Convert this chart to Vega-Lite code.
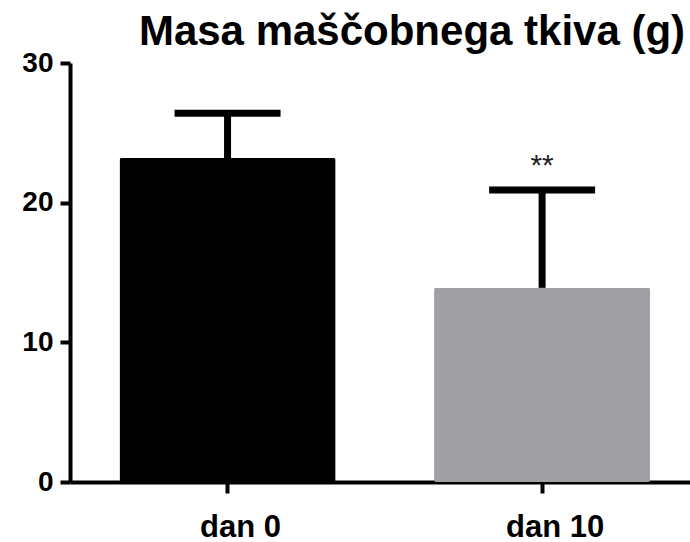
{
  "$schema": "https://vega.github.io/schema/vega-lite/v6.json",
  "width": 620,
  "height": 419,
  "autosize": {"type": "none"},
  "padding": {"left": 70, "top": 63, "right": 0, "bottom": 60},
  "background": "white",
  "title": {
    "text": "Masa maščobnega tkiva (g)",
    "font": "Liberation Sans",
    "fontSize": 42,
    "fontWeight": "bold",
    "color": "black",
    "anchor": "middle",
    "dx": 32,
    "offset": -5
  },
  "data": {
    "values": [
      {"day": "dan 0", "mean": 23.2, "upper": 26.4, "sig": ""},
      {"day": "dan 10", "mean": 13.9, "upper": 20.9, "sig": "**"}
    ]
  },
  "encoding": {
    "x": {
      "field": "day",
      "type": "nominal",
      "sort": null,
      "scale": {"paddingInner": 0.313, "paddingOuter": 0.142, "align": 0.554},
      "axis": {
        "title": null,
        "labelAngle": 0,
        "labelFont": "Liberation Sans",
        "labelFontWeight": "bold",
        "labelFontSize": 31,
        "labelColor": "black",
        "labelPadding": 19,
        "labelOffset": 13,
        "domainColor": "black",
        "domainWidth": 4,
        "tickColor": "black",
        "tickWidth": 4,
        "tickSize": 11
      }
    }
  },
  "layer": [
    {
      "mark": {"type": "bar", "cornerRadius": 2},
      "encoding": {
        "y": {
          "field": "mean",
          "type": "quantitative",
          "scale": {"domain": [0, 30], "nice": false},
          "axis": {
            "title": null,
            "values": [0, 10, 20, 30],
            "grid": false,
            "labelFont": "Liberation Sans",
            "labelFontWeight": "bold",
            "labelFontSize": 28,
            "labelColor": "black",
            "labelPadding": 7,
            "domainColor": "black",
            "domainWidth": 4,
            "tickColor": "black",
            "tickWidth": 4,
            "tickSize": 10
          }
        },
        "color": {
          "field": "day",
          "type": "nominal",
          "sort": null,
          "scale": {"range": ["#000000", "#a09fa4"]},
          "legend": null
        }
      }
    },
    {
      "mark": {"type": "rule", "strokeWidth": 7, "color": "black"},
      "encoding": {
        "y": {"field": "mean", "type": "quantitative"},
        "y2": {"field": "upper"}
      }
    },
    {
      "mark": {"type": "tick", "size": 106, "thickness": 7, "color": "black", "opacity": 1},
      "encoding": {
        "y": {"field": "upper", "type": "quantitative"}
      }
    },
    {
      "mark": {"type": "text", "fontSize": 30, "font": "Liberation Sans", "dy": -15, "baseline": "alphabetic", "color": "#222222"},
      "encoding": {
        "y": {"field": "upper", "type": "quantitative"},
        "text": {"field": "sig"}
      }
    }
  ],
  "config": {"view": {"stroke": null}}
}
